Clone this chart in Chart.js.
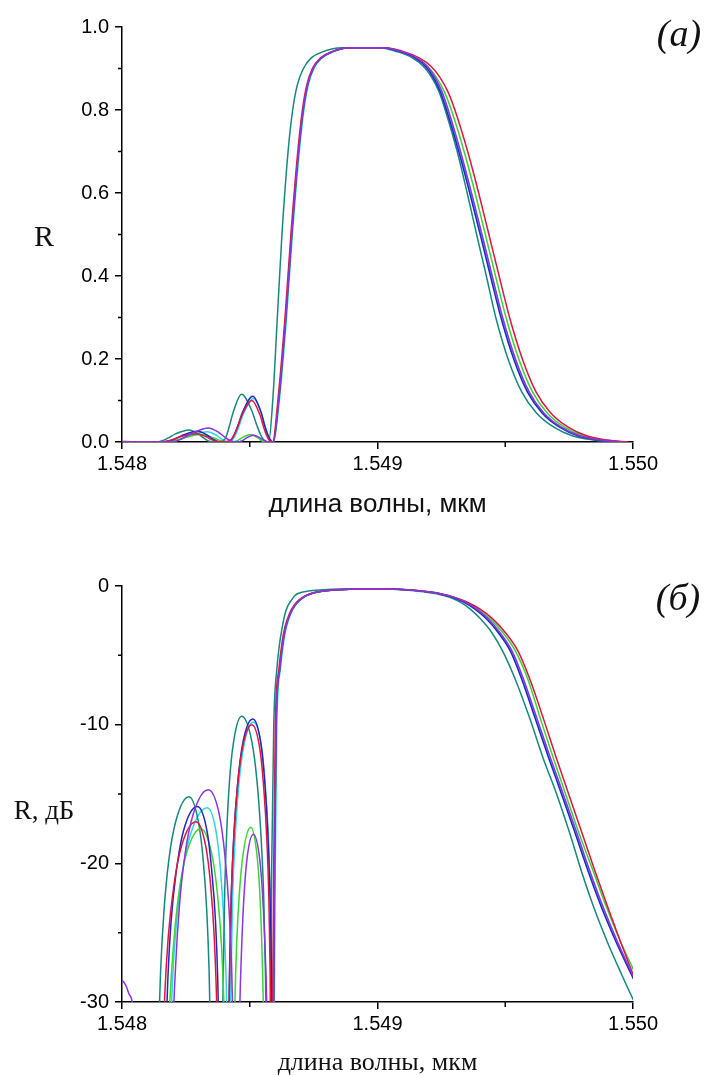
<!DOCTYPE html>
<html>
<head>
<meta charset="utf-8">
<script src="https://cdn.jsdelivr.net/npm/chart.js@4.4.1/dist/chart.umd.min.js"></script>
<style>
  html, body { margin: 0; padding: 0; background: #fff; }
  canvas { position: absolute; left: 0; }
  #chartA { top: 0; width: 708px; height: 540px; }
  #chartB { top: 540px; width: 708px; height: 536px; }
</style>
</head>
<body>
<canvas id="chartA" width="708" height="540"></canvas>
<canvas id="chartB" width="708" height="536"></canvas>
<script>
// axis ticks
const xTicks = [1.548, 1.549, 1.550];
const xTickLabels = ["1.548", "1.549", "1.550"];
const xMinor = [1.5485, 1.5495];
const yTicksA = [0, 0.2, 0.4, 0.6, 0.8, 1.0];
const yTickLabelsA = ["0.0", "0.2", "0.4", "0.6", "0.8", "1.0"];
const yMinorA = [0.1, 0.3, 0.5, 0.7, 0.9];
const yTicksB = [-30, -20, -10, 0];
const yTickLabelsB = ["-30", "-20", "-10", "0"];
const yMinorB = [-25, -15, -5];

// ---- (а) R, linear ----
// side lobes, per curve
const lobeWlTealA = [1.548, 1.54814, 1.548151, 1.548164, 1.548183, 1.54821, 1.548262, 1.548299, 1.548318, 1.548332, 1.548341, 1.548371, 1.548402, 1.54841, 1.548421, 1.548437, 1.548468, 1.548508, 1.548528, 1.548543, 1.548554];
const lobeRTeal = [0, 0, 0.0016, 0.0044, 0.0104, 0.0197, 0.029, 0.0197, 0.0104, 0.0044, 0.0016, 0, 0.0062, 0.0169, 0.0398, 0.0753, 0.115, 0.0753, 0.0398, 0.0169, 0.0062];
const lobeWlRedA = [1.548, 1.548155, 1.548167, 1.548181, 1.548203, 1.548232, 1.54829, 1.548328, 1.548347, 1.548361, 1.54837, 1.548398, 1.548427, 1.548437, 1.548451, 1.54847, 1.548508, 1.54854, 1.548555, 1.548567, 1.548575];
const lobeRRed = [0, 0, 0.0011, 0.0029, 0.0069, 0.0131, 0.02, 0.0131, 0.0069, 0.0029, 0.0011, 0, 0.0054, 0.0147, 0.0346, 0.0655, 0.1, 0.0655, 0.0346, 0.0147, 0.0054];
const lobeWlBlueA = [1.548, 1.548165, 1.548179, 1.548192, 1.548213, 1.54824, 1.548295, 1.548333, 1.548351, 1.548366, 1.548375, 1.5484, 1.548428, 1.548438, 1.548453, 1.548472, 1.548512, 1.548544, 1.548559, 1.548571, 1.548579];
const lobeRBlue = [0, 0, 0.0014, 0.0038, 0.0089, 0.0168, 0.0257, 0.0168, 0.0089, 0.0038, 0.0014, 0, 0.006, 0.0162, 0.038, 0.072, 0.11, 0.072, 0.038, 0.0162, 0.006];
const lobeWlCyanA = [1.548, 1.548183, 1.548197, 1.548213, 1.548237, 1.54827, 1.548334, 1.548369, 1.548386, 1.548399, 1.548408, 1.548421, 1.548433, 1.548443, 1.548457, 1.548476, 1.548514, 1.548546, 1.548561, 1.548573, 1.548581];
const lobeRCyan = [0, 0, 0.0014, 0.0037, 0.0087, 0.0164, 0.025, 0.0164, 0.0087, 0.0037, 0.0014, 0, 0.0057, 0.0154, 0.0363, 0.0688, 0.105, 0.0688, 0.0363, 0.0154, 0.0057];
const lobeWlGreenA = [1.548, 1.548175, 1.548187, 1.548202, 1.548223, 1.548252, 1.548309, 1.548351, 1.548373, 1.548389, 1.548399, 1.54842, 1.548442, 1.548449, 1.54846, 1.548475, 1.548504, 1.548527, 1.548539, 1.548547, 1.548553];
const lobeRGreen = [0, 0, 0.001, 0.0026, 0.0062, 0.0117, 0.0178, 0.0117, 0.0062, 0.0026, 0.001, 0, 0.001, 0.0027, 0.0063, 0.0119, 0.0182, 0.0119, 0.0063, 0.0027, 0.001];
const lobeWlVioletA = [1.548, 1.548045, 1.54806, 1.548198, 1.54821, 1.548225, 1.548247, 1.548278, 1.548338, 1.548381, 1.548402, 1.548418, 1.548429, 1.548448, 1.548461, 1.548468, 1.548477, 1.548489, 1.548514, 1.548539, 1.548551, 1.54856, 1.548567];
const lobeRViolet = [0.0014, 0.0001, 0, 0, 0.0018, 0.005, 0.0117, 0.0222, 0.0339, 0.0222, 0.0117, 0.005, 0.0018, 0, 0.0009, 0.0024, 0.0056, 0.0106, 0.0162, 0.0106, 0.0056, 0.0024, 0.0009];

// main band: R levels and the wavelength where each curve passes them
const levelsA = [0, 0.1, 0.3, 0.5, 0.7, 0.8, 0.86, 0.9, 0.925, 0.94, 0.95, 0.95, 0.94, 0.925, 0.905, 0.88, 0.845, 0.8, 0.7, 0.6, 0.5, 0.4, 0.3, 0.2, 0.12, 0.07, 0.035, 0.015, 0.005, 0];
const mainTealA = [1.548574, 1.54859, 1.548608, 1.548626, 1.54865, 1.548668, 1.548686, 1.54871, 1.54874, 1.548785, 1.54886, 1.549005, 1.54908, 1.549138, 1.54918, 1.549211, 1.54924, 1.549265, 1.549312, 1.549351, 1.549388, 1.549426, 1.549463, 1.549511, 1.549565, 1.549622, 1.549692, 1.549762, 1.549842, 1.549927];
const mainRedA = [1.54859, 1.54861, 1.548638, 1.548661, 1.548688, 1.548706, 1.548723, 1.548745, 1.548776, 1.548819, 1.548886, 1.54903, 1.549105, 1.549165, 1.54921, 1.549243, 1.549275, 1.549303, 1.549353, 1.549396, 1.549436, 1.549476, 1.549517, 1.549567, 1.549621, 1.549678, 1.549748, 1.549818, 1.549898, 1.549983];
const mainBlueA = [1.548591, 1.548613, 1.548641, 1.548664, 1.548691, 1.548709, 1.548726, 1.548748, 1.548779, 1.548822, 1.548889, 1.54902, 1.549092, 1.549148, 1.549188, 1.549217, 1.549245, 1.54927, 1.549318, 1.549361, 1.549402, 1.549442, 1.549483, 1.549533, 1.549587, 1.549644, 1.549714, 1.549784, 1.549864, 1.54995];
const mainCyanA = [1.548592, 1.548616, 1.548644, 1.548667, 1.548694, 1.548712, 1.548729, 1.548751, 1.548782, 1.548825, 1.548892, 1.549022, 1.549096, 1.549152, 1.549192, 1.549221, 1.549249, 1.549274, 1.549322, 1.549365, 1.549406, 1.549446, 1.549487, 1.549537, 1.549591, 1.549648, 1.549718, 1.549788, 1.549868, 1.549954];
const mainGreenA = [1.548592, 1.548614, 1.548642, 1.548665, 1.548692, 1.54871, 1.548727, 1.548749, 1.54878, 1.548823, 1.54889, 1.549025, 1.549095, 1.549153, 1.549197, 1.549229, 1.549261, 1.549289, 1.549339, 1.549382, 1.549422, 1.549462, 1.549503, 1.549553, 1.549607, 1.549664, 1.549734, 1.549804, 1.549884, 1.54997];
const mainVioletA = [1.548592, 1.548613, 1.548641, 1.548664, 1.548691, 1.548709, 1.548726, 1.548748, 1.548779, 1.548822, 1.548889, 1.549022, 1.549098, 1.549155, 1.549195, 1.549224, 1.549252, 1.549277, 1.549325, 1.549368, 1.549409, 1.549449, 1.54949, 1.54954, 1.549594, 1.549651, 1.549721, 1.549791, 1.549871, 1.549957];

// ---- (б) R, dB ----
const lobeWlTealB = [1.548, 1.5481, 1.548141, 1.548151, 1.548164, 1.548183, 1.54821, 1.548262, 1.548299, 1.548318, 1.548332, 1.548341, 1.548347, 1.548371, 1.548394, 1.548397, 1.548402, 1.54841, 1.548421, 1.548437, 1.548468, 1.548508, 1.548528, 1.548543, 1.548554, 1.548561, 1.548564];
const lobeDbTeal = [-45, -45, -33.2, -27.8, -23.5, -19.8, -17.0, -15.2, -17.0, -19.8, -23.5, -27.8, -33.2, -45, -31, -27.4, -22.0, -17.7, -14.0, -11.2, -9.4, -11.2, -14.0, -17.7, -22.0, -27.4, -31];
const lobeWlRedB = [1.548, 1.54814, 1.548157, 1.548167, 1.548181, 1.548203, 1.548232, 1.54829, 1.548328, 1.548347, 1.548361, 1.54837, 1.548377, 1.548398, 1.548418, 1.548421, 1.548427, 1.548437, 1.548451, 1.54847, 1.548508, 1.54854, 1.548555, 1.548567, 1.548575, 1.54858, 1.548583];
const lobeDbRed = [-45, -45, -35.1, -29.65, -25.3, -21.6, -18.8, -17.0, -18.8, -21.6, -25.3, -29.65, -35.1, -45, -32, -28.1, -22.65, -18.3, -14.6, -11.8, -10.0, -11.8, -14.6, -18.3, -22.65, -28.1, -32];
const lobeWlBlueB = [1.548, 1.54815, 1.548169, 1.548179, 1.548192, 1.548213, 1.54824, 1.548295, 1.548333, 1.548351, 1.548366, 1.548375, 1.548381, 1.5484, 1.548418, 1.548421, 1.548428, 1.548438, 1.548453, 1.548472, 1.548512, 1.548544, 1.548559, 1.548571, 1.548579, 1.548585, 1.548587];
const lobeDbBlue = [-45, -45, -34.0, -28.55, -24.2, -20.5, -17.7, -15.9, -17.7, -20.5, -24.2, -28.55, -34.0, -45, -31.7, -27.7, -22.25, -17.9, -14.2, -11.4, -9.6, -11.4, -14.2, -17.9, -22.25, -27.7, -31.7];
const lobeWlCyanB = [1.548, 1.54817, 1.548186, 1.548197, 1.548213, 1.548237, 1.54827, 1.548334, 1.548369, 1.548386, 1.548399, 1.548408, 1.548414, 1.548421, 1.548424, 1.548427, 1.548433, 1.548443, 1.548457, 1.548476, 1.548514, 1.548546, 1.548561, 1.548573, 1.548581, 1.548587, 1.548589];
const lobeDbCyan = [-45, -45, -34.1, -28.65, -24.3, -20.6, -17.8, -16.0, -17.8, -20.6, -24.3, -28.65, -34.1, -45, -31.9, -27.9, -22.45, -18.1, -14.4, -11.6, -9.8, -11.6, -14.4, -18.1, -22.45, -27.9, -31.9];
const lobeWlGreenB = [1.548, 1.54816, 1.548177, 1.548187, 1.548202, 1.548223, 1.548252, 1.548309, 1.548351, 1.548373, 1.548389, 1.548399, 1.548407, 1.54842, 1.548437, 1.548442, 1.548449, 1.54846, 1.548475, 1.548504, 1.548527, 1.548539, 1.548547, 1.548553, 1.548557];
const lobeDbGreen = [-45, -45, -35.6, -30.15, -25.8, -22.1, -19.3, -17.5, -19.3, -22.1, -25.8, -30.15, -35.6, -45, -35.5, -30.05, -25.7, -22.0, -19.2, -17.4, -19.2, -22.0, -25.7, -30.05, -35.5];
const lobeWlVioletB = [1.548, 1.548015, 1.54803, 1.548045, 1.548055, 1.54819, 1.548199, 1.54821, 1.548225, 1.548247, 1.548278, 1.548338, 1.548381, 1.548402, 1.548418, 1.548429, 1.548436, 1.548448, 1.548457, 1.548461, 1.548468, 1.548477, 1.548489, 1.548514, 1.548539, 1.548551, 1.54856, 1.548567, 1.548571];
const lobeDbViolet = [-28.4, -28.8, -29.5, -31, -45, -45, -32.8, -27.35, -23.0, -19.3, -16.5, -14.7, -16.5, -19.3, -23.0, -27.35, -32.8, -45, -36, -30.55, -26.2, -22.5, -19.7, -17.9, -19.7, -22.5, -26.2, -30.55, -36];

const levelsB = [-45, -31, -20, -10, -6, -4, -3, -2, -1.4, -1, -0.7, -0.5, -0.36, -0.28, -0.22, -0.22, -0.3, -0.42, -0.57, -0.8, -1.15, -1.65, -2.35, -3.35, -4.7, -6.9, -9.6, -12.4, -15.1, -17.8, -20.5, -23.1, -25.6, -28, -31];
const mainTealB = [1.548572, 1.54858, 1.548586, 1.548594, 1.548606, 1.548618, 1.548627, 1.548638, 1.54865, 1.548664, 1.548676, 1.548695, 1.54873, 1.54878, 1.54885, 1.549, 1.54912, 1.54918, 1.549235, 1.54928, 1.549322, 1.549362, 1.549402, 1.549447, 1.54949, 1.549543, 1.549597, 1.549648, 1.549703, 1.549752, 1.549797, 1.549845, 1.549898, 1.549955, 1.55003];
const mainRedB = [1.548588, 1.54859, 1.548594, 1.5486, 1.548614, 1.548627, 1.548637, 1.548655, 1.548673, 1.548693, 1.548718, 1.548745, 1.548785, 1.54884, 1.54892, 1.54902, 1.54914, 1.5492, 1.54925, 1.5493, 1.54935, 1.5494, 1.54945, 1.5495, 1.54955, 1.5496, 1.54965, 1.5497, 1.54975, 1.5498, 1.54985, 1.5499, 1.54995, 1.55, 1.550062];
const mainBlueB = [1.54859, 1.548593, 1.548597, 1.548603, 1.548617, 1.54863, 1.54864, 1.548658, 1.548676, 1.548696, 1.548721, 1.548748, 1.548788, 1.548843, 1.54892, 1.54902, 1.54914, 1.549195, 1.549243, 1.54929, 1.549335, 1.54938, 1.549425, 1.549472, 1.54952, 1.549568, 1.549618, 1.54967, 1.549722, 1.549773, 1.549823, 1.549875, 1.549932, 1.549993, 1.55007];
const mainCyanB = [1.548592, 1.548596, 1.5486, 1.548606, 1.54862, 1.548633, 1.548643, 1.548661, 1.548679, 1.548699, 1.548724, 1.548751, 1.548791, 1.548846, 1.54892, 1.54902, 1.54914, 1.549198, 1.549247, 1.549294, 1.549339, 1.549384, 1.549429, 1.549476, 1.549524, 1.549572, 1.549622, 1.549674, 1.549726, 1.549777, 1.549827, 1.549879, 1.549936, 1.549996, 1.55007];
const mainGreenB = [1.548575, 1.548594, 1.548598, 1.548604, 1.548618, 1.548631, 1.548641, 1.548659, 1.548677, 1.548697, 1.548722, 1.548749, 1.548789, 1.548844, 1.54892, 1.54902, 1.54915, 1.549198, 1.549248, 1.549297, 1.549345, 1.549392, 1.54944, 1.54949, 1.54954, 1.549592, 1.549638, 1.549688, 1.549738, 1.549788, 1.549843, 1.549895, 1.54995, 1.55001, 1.55008];
const mainVioletB = [1.548578, 1.548593, 1.548597, 1.548603, 1.548617, 1.54863, 1.54864, 1.548658, 1.548676, 1.548696, 1.548721, 1.548748, 1.548788, 1.548843, 1.54892, 1.54902, 1.54914, 1.5492, 1.54925, 1.549297, 1.549342, 1.549387, 1.549432, 1.549479, 1.549527, 1.549575, 1.549625, 1.549677, 1.549729, 1.54978, 1.54983, 1.549882, 1.549938, 1.549997, 1.55007];

const colors = {
  teal: "#14887f",
  red: "#e0143c",
  green: "#36d636",
  cyan: "#2cd6ea",
  blue: "#2424c2",
  violet: "#8a34e4"
};

function series(lobeWl, lobeVals, mainWl, levels, color) {
  const pts = lobeWl.map((x, i) => ({ x: x, y: lobeVals[i] }))
    .concat(mainWl.map((x, i) => ({ x: x, y: levels[i] })));
  return {
    data: pts,
    borderColor: color,
    borderWidth: 1.5,
    pointRadius: 0,
    fill: false,
    cubicInterpolationMode: "monotone"
  };
}

// minor ticks and free text labels
const extras = {
  id: "extras",
  afterDraw(chart, args, opts) {
    const ctx = chart.ctx;
    const area = chart.chartArea;
    ctx.save();
    ctx.strokeStyle = "#000";
    ctx.lineWidth = 1.5;
    ctx.beginPath();
    opts.xMinor.forEach(v => {
      const px = chart.scales.x.getPixelForValue(v);
      ctx.moveTo(px, area.bottom);
      ctx.lineTo(px, area.bottom + 5);
    });
    opts.yMinor.forEach(v => {
      const py = chart.scales.y.getPixelForValue(v);
      ctx.moveTo(area.left, py);
      ctx.lineTo(area.left - 4, py);
    });
    ctx.stroke();
    ctx.fillStyle = "#111";
    ctx.textAlign = "center";
    ctx.textBaseline = "middle";
    opts.texts.forEach(t => {
      ctx.font = t.font;
      ctx.fillText(t.text, t.x, t.y);
    });
    ctx.restore();
  }
};

Chart.defaults.font.family = "'Liberation Sans', Arial, sans-serif";
Chart.defaults.color = "#000";

function makeChart(id, datasets, opt) {
  return new Chart(document.getElementById(id), {
    type: "line",
    data: { datasets: datasets },
    plugins: [extras],
    options: {
      responsive: false,
      animation: false,
      devicePixelRatio: 1,
      layout: { padding: { top: opt.padTop, right: 75, bottom: 0, left: 0 } },
      plugins: {
        legend: { display: false },
        tooltip: { enabled: false },
        extras: { xMinor: xMinor, yMinor: opt.yMinor, texts: opt.texts }
      },
      scales: {
        x: {
          type: "linear",
          min: 1.548,
          max: 1.55,
          afterBuildTicks: s => { s.ticks = xTicks.map(v => ({ value: v })); },
          afterFit: s => { s.height = opt.xHeight; },
          ticks: {
            font: { size: 20 },
            padding: 3,
            maxRotation: 0,
            callback: (v, i) => xTickLabels[i]
          },
          grid: { drawOnChartArea: false, color: "#000", lineWidth: 1.5, tickLength: 7 },
          border: { color: "#000", width: 1.5 },
          title: {
            display: true,
            text: "длина волны, мкм",
            color: "#111",
            font: opt.titleFont,
            padding: { top: 0, bottom: opt.titlePad }
          }
        },
        y: {
          type: "linear",
          min: opt.yMin,
          max: opt.yMax,
          afterBuildTicks: s => { s.ticks = opt.yTicks.map(v => ({ value: v })); },
          afterFit: s => { s.width = 122; },
          ticks: {
            font: { size: 20 },
            padding: 6,
            callback: (v, i) => opt.yLabels[i]
          },
          grid: { drawOnChartArea: false, color: "#000", lineWidth: 1.5, tickLength: 7 },
          border: { color: "#000", width: 1.5 }
        }
      }
    }
  });
}

makeChart("chartA", [
  series(lobeWlVioletA, lobeRViolet, mainVioletA, levelsA, colors.violet),
  series(lobeWlRedA, lobeRRed, mainRedA, levelsA, colors.red),
  series(lobeWlBlueA, lobeRBlue, mainBlueA, levelsA, colors.blue),
  series(lobeWlGreenA, lobeRGreen, mainGreenA, levelsA, colors.green),
  series(lobeWlTealA, lobeRTeal, mainTealA, levelsA, colors.teal),
  series(lobeWlCyanA, lobeRCyan, mainCyanA, levelsA, colors.cyan)
], {
  padTop: 27, xHeight: 98, yMin: 0, yMax: 1.0,
  yTicks: yTicksA, yLabels: yTickLabelsA, yMinor: yMinorA,
  titleFont: { family: "'Liberation Sans', Arial, sans-serif", size: 26, lineHeight: 1 },
  titlePad: 22,
  texts: [
    { text: "R", x: 44, y: 238, font: "30px 'Liberation Serif', 'Times New Roman', serif" },
    { text: "(а)", x: 679, y: 36, font: "italic 38px 'Liberation Serif', 'Times New Roman', serif" }
  ]
});

makeChart("chartB", [
  series(lobeWlVioletB, lobeDbViolet, mainVioletB, levelsB, colors.violet),
  series(lobeWlRedB, lobeDbRed, mainRedB, levelsB, colors.red),
  series(lobeWlBlueB, lobeDbBlue, mainBlueB, levelsB, colors.blue),
  series(lobeWlGreenB, lobeDbGreen, mainGreenB, levelsB, colors.green),
  series(lobeWlTealB, lobeDbTeal, mainTealB, levelsB, colors.teal),
  series(lobeWlCyanB, lobeDbCyan, mainCyanB, levelsB, colors.cyan)
], {
  padTop: 46, xHeight: 74, yMin: -30, yMax: 0,
  yTicks: yTicksB, yLabels: yTickLabelsB, yMinor: yMinorB,
  titleFont: { family: "'Liberation Serif', 'Times New Roman', serif", size: 26, lineHeight: 1 },
  titlePad: 0,
  texts: [
    { text: "R, дБ", x: 44, y: 272, font: "27px 'Liberation Serif', 'Times New Roman', serif" },
    { text: "(б)", x: 678, y: 60, font: "italic 38px 'Liberation Serif', 'Times New Roman', serif" }
  ]
});
</script>
</body>
</html>
